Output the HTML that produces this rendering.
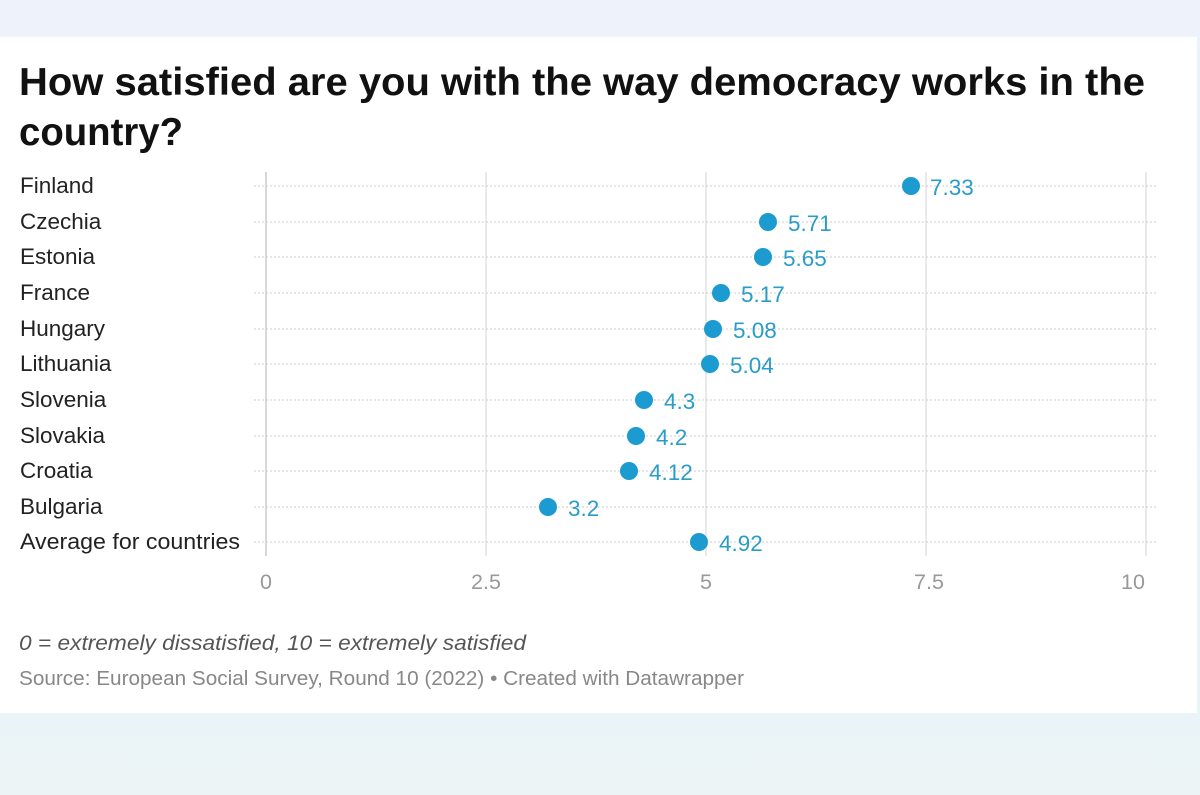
<!DOCTYPE html>
<html><head><meta charset="utf-8"><style>
html,body{margin:0;padding:0;}
body{width:1200px;height:795px;background:linear-gradient(#eef2fa 0,#eef2fa 40px,#eaf3f8 700px,#ecf4f5 795px);position:relative;overflow:hidden;font-family:"Liberation Sans",sans-serif;}
#card{position:absolute;left:0;top:37px;width:1197px;height:676px;background:#fff;}
</style></head><body>
<div id="card"></div>
<svg width="1200" height="795" style="position:absolute;left:0;top:0" font-family="Liberation Sans, sans-serif">
<text x="19" y="95" font-size="39" font-weight="bold" fill="#111" textLength="1126" lengthAdjust="spacingAndGlyphs">How satisfied are you with the way democracy works in the</text>
<text x="19" y="145" font-size="39" font-weight="bold" fill="#111" textLength="164" lengthAdjust="spacingAndGlyphs">country?</text>
<g stroke="#e2e2e2" stroke-width="1.5">
<line x1="486" y1="172" x2="486" y2="556"/>
<line x1="706" y1="172" x2="706" y2="556"/>
<line x1="926" y1="172" x2="926" y2="556"/>
<line x1="1146" y1="172" x2="1146" y2="556"/>
</g>
<line x1="266" y1="172" x2="266" y2="556" stroke="#ccc" stroke-width="1.5"/>
<g stroke="#ccc" stroke-width="1" stroke-dasharray="2,2">
<line x1="254" y1="186" x2="1158" y2="186"/>
<line x1="254" y1="222" x2="1158" y2="222"/>
<line x1="254" y1="257" x2="1158" y2="257"/>
<line x1="254" y1="293" x2="1158" y2="293"/>
<line x1="254" y1="329" x2="1158" y2="329"/>
<line x1="254" y1="364" x2="1158" y2="364"/>
<line x1="254" y1="400" x2="1158" y2="400"/>
<line x1="254" y1="436" x2="1158" y2="436"/>
<line x1="254" y1="471" x2="1158" y2="471"/>
<line x1="254" y1="507" x2="1158" y2="507"/>
<line x1="254" y1="542" x2="1158" y2="542"/>
</g>
<g font-size="22.5" fill="#222">
<text x="20" y="193">Finland</text>
<text x="20" y="229">Czechia</text>
<text x="20" y="264">Estonia</text>
<text x="20" y="300">France</text>
<text x="20" y="336">Hungary</text>
<text x="20" y="371">Lithuania</text>
<text x="20" y="407">Slovenia</text>
<text x="20" y="443">Slovakia</text>
<text x="20" y="478">Croatia</text>
<text x="20" y="514">Bulgaria</text>
<text x="20" y="549" textLength="220" lengthAdjust="spacingAndGlyphs">Average for countries</text>
</g>
<g fill="#1b9bd0">
<circle cx="911" cy="186" r="9"/>
<circle cx="768" cy="222" r="9"/>
<circle cx="763" cy="257" r="9"/>
<circle cx="721" cy="293" r="9"/>
<circle cx="713" cy="329" r="9"/>
<circle cx="710" cy="364" r="9"/>
<circle cx="644" cy="400" r="9"/>
<circle cx="636" cy="436" r="9"/>
<circle cx="629" cy="471" r="9"/>
<circle cx="548" cy="507" r="9"/>
<circle cx="699" cy="542" r="9"/>
</g>
<g font-size="22.5" fill="#2a9cc9">
<text x="930" y="195">7.33</text>
<text x="788" y="231">5.71</text>
<text x="783" y="266">5.65</text>
<text x="741" y="302">5.17</text>
<text x="733" y="338">5.08</text>
<text x="730" y="373">5.04</text>
<text x="664" y="409">4.3</text>
<text x="656" y="445">4.2</text>
<text x="649" y="480">4.12</text>
<text x="568" y="516">3.2</text>
<text x="719" y="551">4.92</text>
</g>
<g font-size="21.5" fill="#999" text-anchor="middle">
<text x="266" y="589">0</text>
<text x="486" y="589">2.5</text>
<text x="706" y="589">5</text>
<text x="929" y="589">7.5</text>
<text x="1133" y="589">10</text>
</g>
<text x="19" y="650" font-size="21.5" font-style="italic" fill="#555" textLength="507" lengthAdjust="spacingAndGlyphs">0 = extremely dissatisfied, 10 = extremely satisfied</text>
<text x="19" y="685" font-size="20" fill="#888" textLength="725" lengthAdjust="spacingAndGlyphs">Source: European Social Survey, Round 10 (2022) • Created with Datawrapper</text>
</svg>
</body></html>
